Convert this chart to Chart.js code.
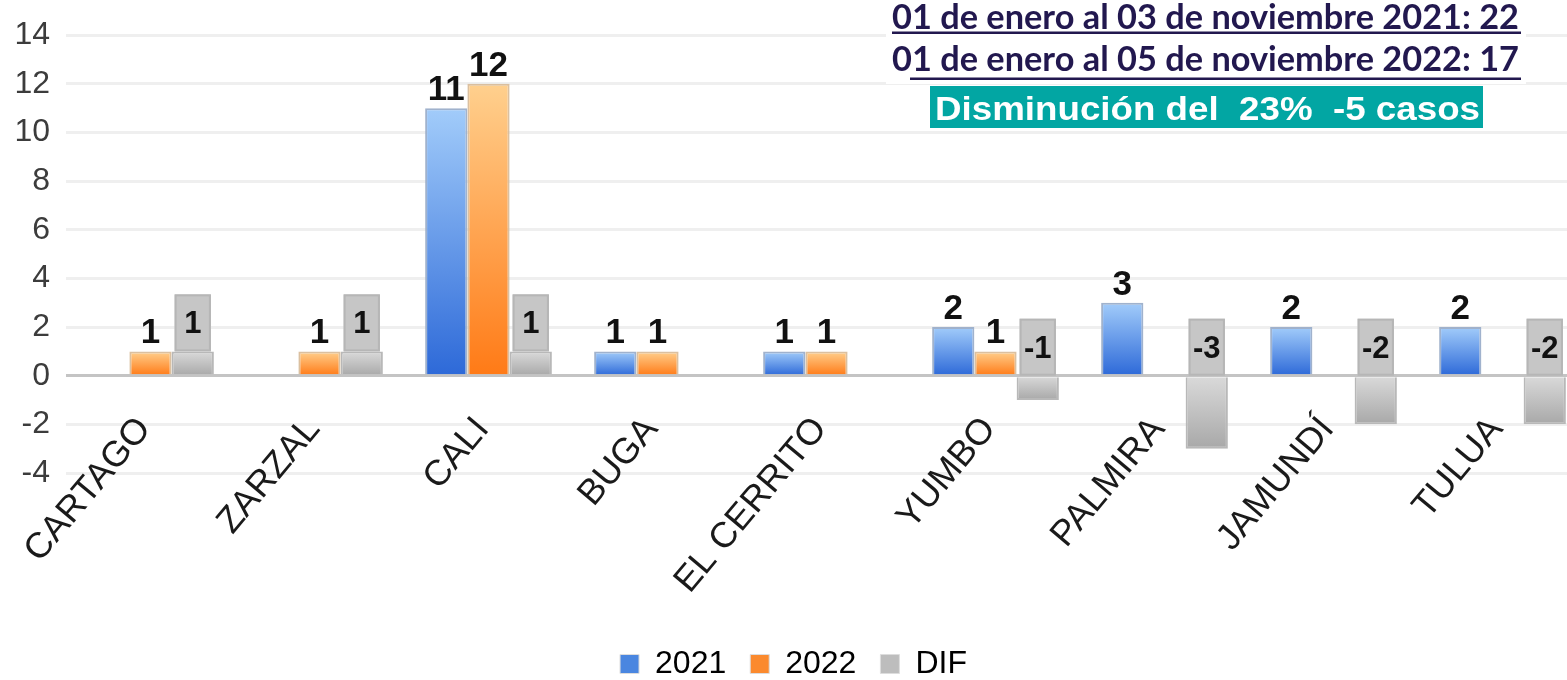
<!DOCTYPE html>
<html>
<head>
<meta charset="utf-8">
<script src="https://cdn.jsdelivr.net/npm/chart.js@4.4.1/dist/chart.umd.min.js"></script>
<style>
    html, body { margin: 0; padding: 0; background: #fff; overflow: hidden; }
    #wrap { position: relative; width: 1608px; height: 680px; }
</style>
</head>
<body>
<div id="wrap"><canvas id="casos-chart"></canvas></div>
<script>
// municipios
const municipios = ['CARTAGO', 'ZARZAL', 'CALI', 'BUGA', 'EL CERRITO', 'YUMBO', 'PALMIRA', 'JAMUNDÍ', 'TULUA'];

// casos por año (null = sin barra)
const casos2021 = [null, null, 11, 1, 1, 2, 3, 2, 2];
const casos2022 = [1, 1, 12, 1, 1, 1, null, null, null];
const diferencia = [1, 1, 1, null, null, -1, -3, -2, -2];

const serieNombres = ['2021', '2022', 'DIF'];
const yTicks = [-4, -2, 0, 2, 4, 6, 8, 10, 12, 14];

const lineaTitulo1 = '01 de enero al 03 de noviembre 2021: 22';
const lineaTitulo2 = '01 de enero al 05 de noviembre 2022: 17';
const lineaResumen = 'Disminución del  23%  -5 casos';

const FONT = '"Liberation Sans", Arial, sans-serif';
const legendColors = ['#4a86e0', '#fb8a2e', '#bdbdbd'];

// degradado vertical por barra
function vertGradient(light, dark) {
    return (c) => {
        const chart = c.chart;
        if (c.type !== 'data' || c.raw == null || !chart.chartArea) return dark;
        const y = chart.scales.y;
        const top = y.getPixelForValue(Math.max(c.raw, 0));
        const bottom = y.getPixelForValue(Math.min(c.raw, 0));
        if (bottom - top < 1) return dark;
        const g = chart.ctx.createLinearGradient(0, top, 0, bottom);
        g.addColorStop(0, light);
        g.addColorStop(1, dark);
        return g;
    };
}

// etiquetas de valores y cajas grises de la diferencia
const valueLabels = {
    id: 'valueLabels',
    afterDatasetsDraw(chart) {
        const ctx = chart.ctx;
        const zeroY = chart.scales.y.getPixelForValue(0);
        ctx.save();
        ctx.textAlign = 'center';
        chart.data.datasets.forEach((ds, di) => {
            const meta = chart.getDatasetMeta(di);
            meta.data.forEach((bar, i) => {
                const v = ds.data[i];
                if (v == null) return;
                const p = bar.getProps(['x', 'y', 'width'], true);
                if (di === 2) {
                    const bottom = Math.min(p.y, zeroY);
                    const w = p.width - 6;
                    const h = 57;
                    ctx.fillStyle = '#c6c6c6';
                    ctx.strokeStyle = '#b6b6b6';
                    ctx.lineWidth = 2;
                    ctx.fillRect(p.x - w / 2, bottom - h, w, h);
                    ctx.strokeRect(p.x - w / 2 + 1, bottom - h + 1, w - 2, h - 2);
                    ctx.fillStyle = '#111';
                    ctx.font = 'bold 31px ' + FONT;
                    ctx.textBaseline = 'middle';
                    ctx.fillText(String(v), p.x, bottom - h / 2 + 2);
                } else {
                    ctx.fillStyle = '#111';
                    ctx.font = 'bold 35px ' + FONT;
                    ctx.textBaseline = 'alphabetic';
                    ctx.fillText(String(v), p.x, p.y - 8);
                }
            });
        });
        ctx.restore();
    }
};

// nombres de municipios inclinados, dibujados sobre la zona negativa
const xLabels = {
    id: 'xLabels',
    afterDraw(chart) {
        const ctx = chart.ctx;
        const x = chart.scales.x;
        ctx.save();
        ctx.fillStyle = '#1a1a1a';
        ctx.font = '36px ' + FONT;
        ctx.textAlign = 'right';
        ctx.textBaseline = 'middle';
        municipios.forEach((m, i) => {
            ctx.save();
            ctx.translate(x.getPixelForValue(i) - 6, 423);
            ctx.rotate(-50 * Math.PI / 180);
            ctx.fillText(m, 0, 0);
            ctx.restore();
        });
        ctx.restore();
    }
};

// texto de resumen arriba a la derecha
function fitText(ctx, text, x, baseline, width) {
    const m = ctx.measureText(text).width;
    ctx.save();
    ctx.translate(x, baseline);
    ctx.scale(width / m, 1);
    ctx.fillText(text, 0, 0);
    ctx.restore();
}

const resumen = {
    id: 'resumen',
    afterDraw(chart) {
        const ctx = chart.ctx;
        ctx.save();
        ctx.fillStyle = '#fff';
        ctx.fillRect(886, 0, 640, 84);

        ctx.fillStyle = '#22184f';
        ctx.textAlign = 'left';
        ctx.textBaseline = 'alphabetic';
        ctx.font = 'bold 34px Lato, "Open Sans", sans-serif';
        fitText(ctx, lineaTitulo1, 892, 29, 627);
        fitText(ctx, lineaTitulo2, 892, 71, 627);
        ctx.fillRect(892, 31.5, 629, 2.5);
        ctx.fillRect(910, 77.5, 611, 2.5);

        ctx.fillStyle = '#02a6a3';
        ctx.fillRect(930, 86, 553, 42);
        ctx.fillStyle = '#fff';
        ctx.font = 'bold 34px ' + FONT;
        fitText(ctx, lineaResumen, 935, 120, 545);
        ctx.restore();
    }
};

const chart = new Chart(document.getElementById('casos-chart'), {
    type: 'bar',
    data: {
        labels: municipios,
        datasets: [
            {
                label: serieNombres[0],
                data: casos2021,
                backgroundColor: vertGradient('#a2ccfa', '#2d69d8'),
                borderColor: 'rgba(150,170,200,0.9)',
                borderWidth: 2
            },
            {
                label: serieNombres[1],
                data: casos2022,
                backgroundColor: vertGradient('#ffd08e', '#ff7a16'),
                borderColor: 'rgba(215,185,150,0.9)',
                borderWidth: 2
            },
            {
                label: serieNombres[2],
                data: diferencia,
                backgroundColor: vertGradient('#dadada', '#a8a8a8'),
                borderColor: '#b8b8b8',
                borderWidth: 2
            }
        ]
    },
    options: {
        responsive: true,
        maintainAspectRatio: false,
        animation: false,
        categoryPercentage: 0.75,
        barPercentage: 1.0,
        layout: {
            padding: { left: 0, right: 21, top: 24, bottom: -10 }
        },
        scales: {
            x: {
                grid: { display: false },
                border: { display: false },
                ticks: { display: false },
                afterFit: (scale) => { scale.height = 151; }
            },
            y: {
                min: -4,
                max: 14,
                afterBuildTicks: (scale) => { scale.ticks = yTicks.map(v => ({ value: v })); },
                grid: {
                    drawTicks: false,
                    lineWidth: 3,
                    color: (c) => c.tick && c.tick.value === 0 ? '#c4c4c4' : '#efefef'
                },
                border: { display: false },
                ticks: {
                    padding: 16,
                    color: '#3c3c3c',
                    font: { family: FONT, size: 32 }
                },
                afterFit: (scale) => { scale.width = 66; }
            }
        },
        plugins: {
            legend: {
                position: 'bottom',
                labels: {
                    boxWidth: 19,
                    boxHeight: 19,
                    padding: 24,
                    color: '#222',
                    font: { family: FONT, size: 32 },
                    generateLabels: (ch) => ch.data.datasets.map((ds, i) => ({
                        text: ds.label,
                        fillStyle: legendColors[i],
                        strokeStyle: '#ddd',
                        lineWidth: 1,
                        hidden: !ch.isDatasetVisible(i),
                        datasetIndex: i
                    }))
                }
            },
            tooltip: { enabled: false }
        }
    },
    plugins: [valueLabels, xLabels, resumen]
});
</script>
</body>
</html>
